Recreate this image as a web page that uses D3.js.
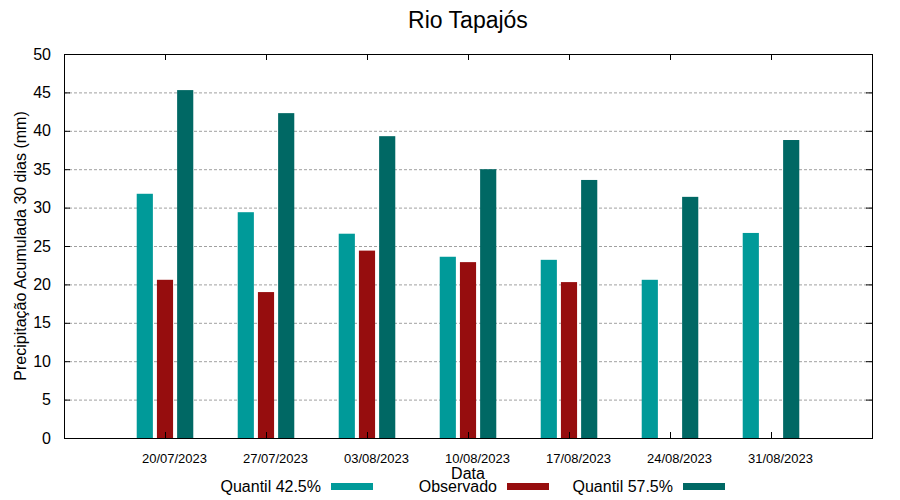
<!DOCTYPE html>
<html>
<head>
<meta charset="utf-8">
<title>Rio Tapajós</title>
<style>
    body { margin: 0; background: #fff; }
    svg text { font-family: "Liberation Sans", Arial, sans-serif; fill: #000; }
</style>
</head>
<body>
<div id="chart"></div>
<script src="https://d3js.org/d3.v7.min.js"></script>
<script>

    // data
    var dates = ["20/07/2023", "27/07/2023", "03/08/2023", "10/08/2023", "17/08/2023", "24/08/2023", "31/08/2023"];
    var q425 = [31.8, 29.4, 26.6, 23.6, 23.2, 20.6, 26.7];
    var observado = [20.6, 19.0, 24.4, 22.9, 20.3, null, null];
    var q575 = [45.3, 42.3, 39.3, 35.0, 33.6, 31.4, 38.8];
    var yTicks = [0, 5, 10, 15, 20, 25, 30, 35, 40, 45, 50];

    var series = [
        { name: "Quantil 42.5%", values: q425, color: "#009a99", offset: -0.2 },
        { name: "Observado", values: observado, color: "#960d0e", offset: 0 },
        { name: "Quantil 57.5%", values: q575, color: "#006864", offset: 0.2 }
    ];

    var W = 900, H = 500;
    var margin = { top: 54, right: 28, bottom: 62, left: 64 },
        width = W - margin.left - margin.right,
        height = H - margin.top - margin.bottom;

    var svg = d3.select("#chart")
        .append("svg")
        .attr("width", W)
        .attr("height", H);

    var g = svg.append("g")
        .attr("transform", "translate(" + margin.left + "," + margin.top + ")");

    var x = d3.scaleLinear().domain([-1, 7]).range([0, width]);
    var y = d3.scaleLinear().domain([0, 50]).range([height, 0]);
    var barW = x(0.16) - x(0);

    // grid
    g.append("g")
        .selectAll("line")
        .data(yTicks.slice(1, -1))
        .enter().append("line")
        .attr("x1", 0).attr("x2", width)
        .attr("y1", function (d) { return y(d) + 0.5; })
        .attr("y2", function (d) { return y(d) + 0.5; })
        .attr("stroke", "#a0a0a0")
        .attr("stroke-width", 1)
        .attr("stroke-dasharray", "3,2");

    // bars
    series.forEach(function (s) {
        g.append("g")
            .selectAll("rect")
            .data(s.values.map(function (v, i) { return { i: i, v: v }; })
                .filter(function (d) { return d.v != null; }))
            .enter().append("rect")
            .attr("x", function (d) { return x(d.i + s.offset) - barW / 2; })
            .attr("y", function (d) { return y(d.v); })
            .attr("width", barW)
            .attr("height", function (d) { return height - y(d.v); })
            .attr("fill", s.color);
    });

    // axes (inward ticks like gnuplot)
    var idx = d3.range(dates.length);

    var xAxis = g.append("g")
        .attr("transform", "translate(0," + height + ")")
        .call(d3.axisBottom(x).tickValues(idx)
            .tickFormat(function (i) { return dates[i]; })
            .tickSizeInner(-6).tickSizeOuter(0).tickPadding(16));
    xAxis.selectAll("text").attr("dx", 9).style("font-size", "13px");

    g.append("g")
        .call(d3.axisTop(x).tickValues(idx).tickFormat("")
            .tickSizeInner(-6).tickSizeOuter(0));

    var yAxis = g.append("g")
        .call(d3.axisLeft(y).tickValues(yTicks)
            .tickSizeInner(-6).tickSizeOuter(0).tickPadding(13));
    yAxis.selectAll("text").style("font-size", "16px");

    g.append("g")
        .attr("transform", "translate(" + width + ",0)")
        .call(d3.axisRight(y).tickValues(yTicks).tickFormat("")
            .tickSizeInner(-6).tickSizeOuter(0));

    g.selectAll(".domain").remove();
    g.selectAll(".tick line").attr("stroke", "#000");

    // frame
    g.append("rect")
        .attr("x", 0.5).attr("y", 0.5)
        .attr("width", width).attr("height", height)
        .attr("fill", "none")
        .attr("stroke", "#000")
        .attr("stroke-width", 1);

    // title and labels
    svg.append("text")
        .attr("x", margin.left + width / 2)
        .attr("y", 28)
        .attr("text-anchor", "middle")
        .style("font-size", "23px")
        .text("Rio Tapajós");

    svg.append("text")
        .attr("transform", "translate(26," + (margin.top + height / 2) + ") rotate(-90)")
        .attr("text-anchor", "middle")
        .style("font-size", "16px")
        .text("Precipitação Acumulada 30 dias (mm)");

    svg.append("text")
        .attr("x", margin.left + width / 2)
        .attr("y", 479)
        .attr("text-anchor", "middle")
        .style("font-size", "16px")
        .text("Data");

    // legend
    var legendEnds = [321, 497, 673];
    var legend = svg.append("g");
    series.forEach(function (s, k) {
        legend.append("text")
            .attr("x", legendEnds[k])
            .attr("y", 492)
            .attr("text-anchor", "end")
            .style("font-size", "16px")
            .text(s.name);
        legend.append("rect")
            .attr("x", legendEnds[k] + 10)
            .attr("y", 483)
            .attr("width", 42)
            .attr("height", 7)
            .attr("fill", s.color);
    });

</script>
</body>
</html>
